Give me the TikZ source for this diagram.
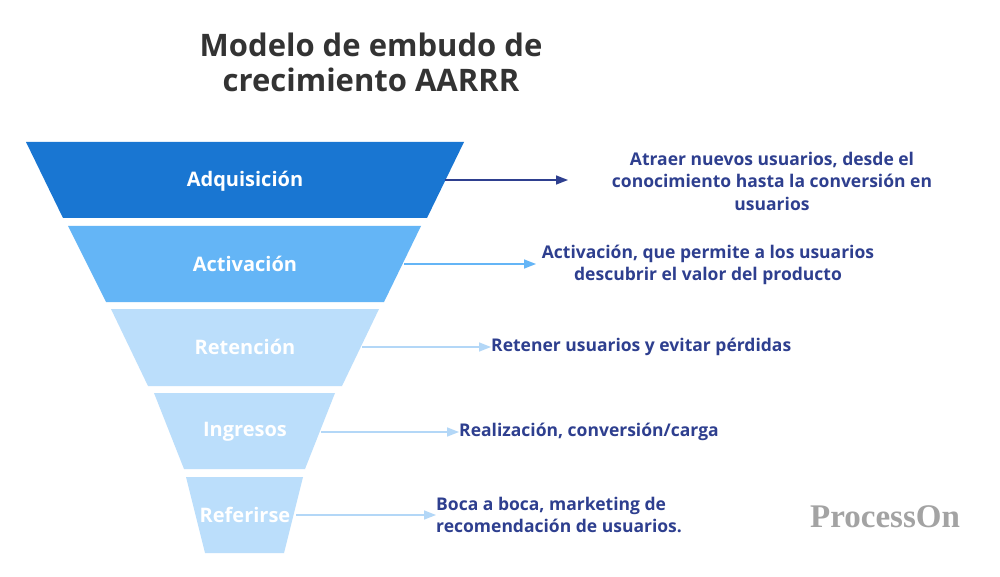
\documentclass[tikz,border=0pt]{standalone}
\usepackage{fontspec}
\setmainfont{Open Sans}
\newfontfamily\wmfont{Liberation Serif}
\usetikzlibrary{arrows.meta}
\definecolor{cDark}{HTML}{1976D2}
\definecolor{cMid}{HTML}{64B5F6}
\definecolor{cLight}{HTML}{BBDEFB}
\definecolor{cArrLight}{HTML}{B3D7F7}
\definecolor{cNavy}{HTML}{2E3F8F}
\definecolor{cTitle}{HTML}{333333}
\definecolor{cWm}{HTML}{A3A3A3}
\tikzset{
  lvlabel/.style={font=\bfseries\fontsize{20}{22}\selectfont, text=white, inner sep=0pt},
  desc/.style={font=\bfseries\fontsize{17.5}{22.5}\selectfont, text=cNavy, inner sep=0pt},
  conn/.style={line width=1.5pt, -{Triangle[length=12pt,width=9pt]}},
}
\begin{document}
\begin{tikzpicture}[x=1pt,y=-1pt]
\fill[white] (0,0) rectangle (1000,577);
\useasboundingbox (0,0) rectangle (1000,577);
% title
\node[font=\bfseries\fontsize{31}{35}\selectfont, text=cTitle, align=center, inner sep=0pt] (title) at (371,62) {Modelo de embudo de\\crecimiento AARRR};
% funnel
\fill[cDark]  (26,142) -- (464,142) -- (427,218) -- (63,218) -- cycle;
\fill[cMid]   (68,226) -- (421,226) -- (384,302) -- (106,302) -- cycle;
\fill[cLight] (111,309) -- (379,309) -- (342,386) -- (148,386) -- cycle;
\fill[cLight] (154,393) -- (335,393) -- (305,469) -- (184,469) -- cycle;
\fill[cLight] (186,477) -- (303,477) -- (284,553) -- (205,553) -- cycle;
\node[lvlabel] (l1) at (245,181) {Adquisición};
\node[lvlabel] (l2) at (245,264) {Activación};
\node[lvlabel] (l3) at (245,347) {Retención};
\node[lvlabel] (l4) at (245,432) {Ingresos};
\node[lvlabel] (l5) at (245,515) {Referirse};
% arrow starts / ends
\coordinate (s1) at (445,180);
\coordinate (e1) at (568,180);
\coordinate (s2) at (404,264);
\coordinate (e2) at (536,264);
\coordinate (s3) at (362,347);
\coordinate (s4) at (321,432);
\coordinate (s5) at (296,515);
% descriptions
\node[desc, align=center] (d1) at (772,181) {Atraer nuevos usuarios, desde el\\conocimiento hasta la conversión en\\usuarios};
\node[desc, align=center] (d2) at (708,265) {Activación, que permite a los usuarios\\descubrir el valor del producto};
\node[desc, anchor=west] (d3) at (491,347) {Retener usuarios y evitar pérdidas};
\node[desc, anchor=west] (d4) at (459,432) {Realización, conversión/carga};
\node[desc, align=left, anchor=west] (d5) at (436,515) {Boca a boca, marketing de\\recomendación de usuarios.};
% connectors
\draw[conn, cNavy] (s1) -- (e1);
\draw[conn, cMid] (s2) -- (e2);
\draw[conn, cArrLight] (s3) -- (d3.west);
\draw[conn, cArrLight] (s4) -- (d4.west);
\draw[conn, cArrLight] (s5) -- (d5.west);
% watermark
\node[font=\wmfont\bfseries\fontsize{33}{35}\selectfont, text=cWm, inner sep=0pt] (wm) at (885,517) {ProcessOn};
\end{tikzpicture}
\end{document}
